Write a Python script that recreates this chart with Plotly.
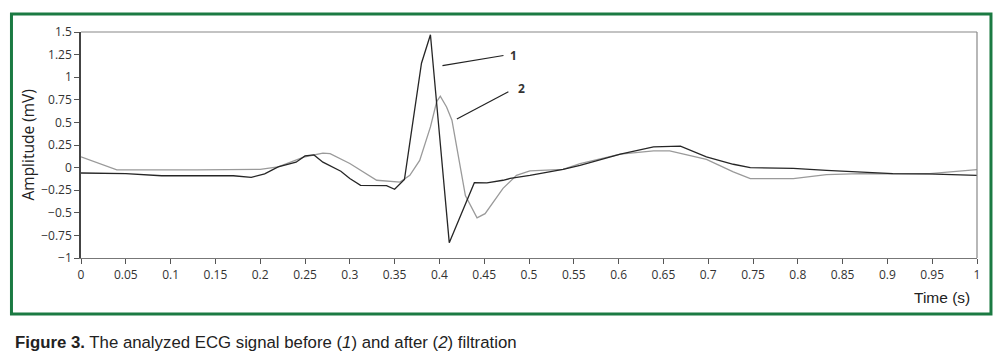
import plotly.graph_objects as go

# Curve 1: ECG before filtration
t1 = [0.0, 0.05, 0.09, 0.13, 0.17, 0.19, 0.205, 0.22, 0.24, 0.25, 0.26, 0.27, 0.278,
      0.29, 0.30, 0.312, 0.341, 0.35, 0.361, 0.380, 0.390, 0.411, 0.439, 0.453,
      0.471, 0.479, 0.501, 0.538, 0.557, 0.602, 0.639, 0.669, 0.698, 0.728, 0.747,
      0.795, 0.832, 0.87, 0.906, 0.944, 1.0]
v1 = [-0.06, -0.067, -0.09, -0.093, -0.09, -0.108, -0.07, 0.007, 0.06, 0.13, 0.14, 0.06, 0.02,
      -0.04, -0.12, -0.197, -0.2, -0.24, -0.13, 1.155, 1.47, -0.83, -0.167, -0.17,
      -0.14, -0.12, -0.086, -0.02, 0.025, 0.15, 0.23, 0.237, 0.118, 0.037, 0.0,
      -0.008, -0.03, -0.048, -0.067, -0.07, -0.086]

# Curve 2: ECG after filtration
t2 = [0.0, 0.04, 0.13, 0.2, 0.22, 0.25, 0.27, 0.278, 0.30, 0.315, 0.33, 0.356,
      0.367, 0.378, 0.390, 0.397, 0.401, 0.408, 0.414, 0.429, 0.442, 0.451,
      0.471, 0.486, 0.501, 0.538, 0.557, 0.602, 0.639, 0.657, 0.698, 0.728,
      0.747, 0.795, 0.832, 0.87, 0.906, 0.944, 1.0]
v2 = [0.12, -0.025, -0.025, -0.02, 0.007, 0.12, 0.16, 0.155, 0.045, -0.05, -0.14, -0.16,
      -0.086, 0.08, 0.45, 0.73, 0.79, 0.67, 0.525, -0.31, -0.556, -0.51,
      -0.23, -0.086, -0.037, -0.02, 0.044, 0.15, 0.185, 0.185, 0.09, -0.048,
      -0.122, -0.122, -0.078, -0.067, -0.067, -0.07, -0.022]

x_ticks = [round(i * 0.05, 2) for i in range(21)]
x_labels = ["0", "0.05", "0.1", "0.15", "0.2", "0.25", "0.3", "0.35", "0.4", "0.45", "0.5",
            "0.55", "0.6", "0.65", "0.7", "0.75", "0.8", "0.85", "0.9", "0.95", "1"]
y_ticks = [1.5, 1.25, 1, 0.75, 0.5, 0.25, 0, -0.25, -0.5, -0.75, -1]
y_labels = ["1.5", "1.25", "1", "0.75", "0.5", "0.25", "0", "\u22120.25", "\u22120.5", "\u22120.75", "\u22121"]

fig = go.Figure()
fig.add_trace(go.Scatter(x=t2, y=v2, mode="lines", line=dict(color="#9a9a9a", width=1.3),
                         showlegend=False, hoverinfo="skip"))
fig.add_trace(go.Scatter(x=t1, y=v1, mode="lines", line=dict(color="#262626", width=1.3),
                         showlegend=False, hoverinfo="skip"))

tickfont = dict(family="Open Sans, Liberation Sans, sans-serif", size=12, color="#333")
fig.update_xaxes(range=[0, 1], tickvals=x_ticks, ticktext=x_labels, ticks="outside",
                 ticklen=5, tickcolor="#555", showline=True, linecolor="#777", linewidth=1.2,
                 mirror=False, showgrid=False, zeroline=False, tickfont=tickfont)
fig.update_yaxes(range=[-1, 1.5], tickvals=y_ticks, ticktext=y_labels, ticks="outside",
                 ticklen=5, tickcolor="#555", showline=True, linecolor="#444", linewidth=1.5,
                 mirror=False, showgrid=False, zeroline=False, tickfont=tickfont)

shapes = [
    # light frame (top/right)
    dict(type="line", xref="paper", yref="paper", x0=0, x1=1, y0=1, y1=1,
         line=dict(color="#888", width=1.2)),
    dict(type="line", xref="paper", yref="paper", x0=1, x1=1, y0=0, y1=1,
         line=dict(color="#888", width=1.2)),
    # green border
    dict(type="rect", xref="paper", yref="paper", x0=-0.0776, x1=1.0156, y0=-0.2478, y1=1.0796,
         line=dict(color="#1b7a42", width=3), fillcolor="rgba(0,0,0,0)", layer="below"),
    # label leader lines
    dict(type="line", xref="x", yref="y", x0=0.4034, y0=1.129, x1=0.4715, y1=1.24,
         line=dict(color="#222", width=1.2)),
    dict(type="line", xref="x", yref="y", x0=0.4195, y0=0.537, x1=0.477, y1=0.84,
         line=dict(color="#222", width=1.2)),
]

annotations = [
    dict(x=0.483, y=1.235, xref="x", yref="y", text="<b>1</b>", showarrow=False,
         xanchor="center", yanchor="middle",
         font=dict(family="Open Sans, sans-serif", size=12, color="#333")),
    dict(x=0.492, y=0.87, xref="x", yref="y", text="<b>2</b>", showarrow=False,
         xanchor="center", yanchor="middle",
         font=dict(family="Open Sans, sans-serif", size=12, color="#333")),
    dict(x=-0.0597, y=0.5, xref="paper", yref="paper", text="Amplitude (mV)", textangle=-90,
         xanchor="center", yanchor="middle",
         showarrow=False, font=dict(family="Open Sans, sans-serif", size=15.5, color="#222")),
    dict(x=0.9944, y=-0.175, xref="paper", yref="paper", text="Time (s)",
         xanchor="right", yanchor="middle",
         showarrow=False, font=dict(family="Liberation Sans, Arial, sans-serif", size=15.5, color="#222")),
    dict(x=-0.0762, y=-0.376, xref="paper", yref="paper", xanchor="left", yanchor="middle",
         text="<b>Figure 3.</b> The analyzed ECG signal before (<i>1</i>) and after (<i>2</i>) filtration",
         showarrow=False, font=dict(family="Liberation Sans, Arial, sans-serif", size=16.8, color="#222")),
]

fig.update_layout(width=994, height=355, margin=dict(l=73, r=25, t=24, b=105),
                  plot_bgcolor="white", paper_bgcolor="white",
                  shapes=shapes, annotations=annotations)

fig.write_html("out.html")
